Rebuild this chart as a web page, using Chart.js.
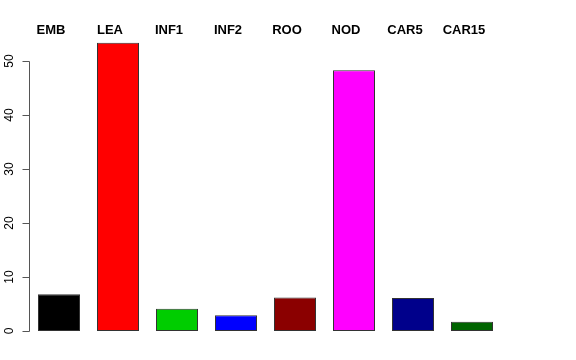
<!DOCTYPE html>
<html>
<head>
<meta charset="utf-8">
<script src="https://cdn.jsdelivr.net/npm/chart.js@4"></script>
<style>
  html, body { margin: 0; padding: 0; background: #fff; }
  #wrap { width: 576px; height: 360px; }
</style>
</head>
<body>
<div id="wrap"><canvas id="chart"></canvas></div>
<script>
// tissue categories and their values
const categories = ['EMB', 'LEA', 'INF1', 'INF2', 'ROO', 'NOD', 'CAR5', 'CAR15'];
const values = [6.8, 53.4, 4.1, 2.9, 6.2, 48.3, 6.1, 1.7];
const barColors = ['#000000', '#ff0000', '#00cd00', '#0000ff', '#8b0000', '#ff00ff', '#00008b', '#006400'];
const yTicks = [0, 10, 20, 30, 40, 50];

// R-style axis: line only from first to last tick, rotated labels, names on top
const rAxis = {
    id: 'rAxis',
    afterDraw(chart) {
        const ctx = chart.ctx;
        const y = chart.scales.y;
        const x = chart.scales.x;
        const axisX = Math.round(y.right) - 0.5;

        ctx.save();
        ctx.strokeStyle = '#555';
        ctx.lineWidth = 1;
        ctx.beginPath();
        ctx.moveTo(axisX, Math.round(y.getPixelForValue(yTicks[0])) + 0.5);
        ctx.lineTo(axisX, Math.round(y.getPixelForValue(yTicks[yTicks.length - 1])) + 0.5);
        yTicks.forEach(t => {
            const py = Math.round(y.getPixelForValue(t)) + 0.5;
            ctx.moveTo(axisX, py);
            ctx.lineTo(axisX - 7, py);
        });
        ctx.stroke();

        ctx.fillStyle = '#000';
        ctx.font = '12px "Liberation Sans", Arial, sans-serif';
        ctx.textAlign = 'center';
        ctx.textBaseline = 'middle';
        yTicks.forEach(t => {
            ctx.save();
            ctx.translate(10, y.getPixelForValue(t));
            ctx.rotate(-Math.PI / 2);
            ctx.fillText(String(t), 0, 0);
            ctx.restore();
        });

        ctx.font = 'bold 13px "Liberation Sans", Arial, sans-serif';
        categories.forEach((c, i) => {
            ctx.fillText(c, x.getPixelForValue(i) - 8, 30);
        });
        ctx.restore();
    }
};

new Chart(document.getElementById('chart'), {
    type: 'bar',
    data: {
        labels: categories,
        datasets: [{
            data: values,
            backgroundColor: barColors,
            borderColor: '#333',
            borderWidth: 1,
            borderSkipped: false,
            barPercentage: 0.712,
            categoryPercentage: 1
        }]
    },
    options: {
        responsive: true,
        maintainAspectRatio: false,
        animation: false,
        devicePixelRatio: 1,
        layout: { padding: { left: 0, right: 74.5, top: 34, bottom: 29 } },
        plugins: {
            legend: { display: false },
            tooltip: { enabled: false }
        },
        scales: {
            x: {
                display: false
            },
            y: {
                min: 0,
                max: 55,
                afterFit(scale) { scale.width = 29.5; },
                grid: { display: false },
                border: { display: false },
                ticks: { display: false, stepSize: 10, includeBounds: false }
            }
        }
    },
    plugins: [rAxis]
});
</script>
</body>
</html>
